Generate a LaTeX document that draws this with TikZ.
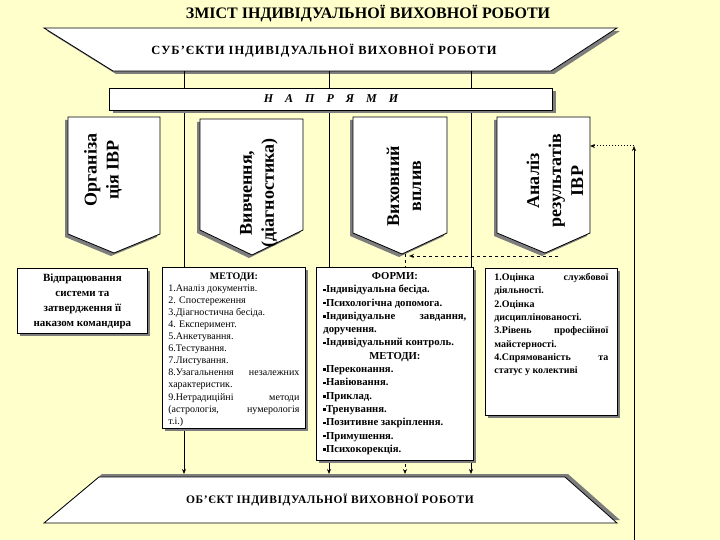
\documentclass[tikz,border=0pt]{standalone}
\usepackage{fontspec}
\setmainfont{Liberation Serif}
\usetikzlibrary{arrows.meta,shadows}
\definecolor{bgyellow}{RGB}{255,255,204}
\definecolor{shgray}{RGB}{125,125,125}
\hyphenpenalty=10000
\exhyphenpenalty=10000
\tolerance=10000
\newcommand{\bul}{\rule[1.6pt]{2.6pt}{2.6pt}}

\begin{document}
\begin{tikzpicture}[x=1pt,y=-1pt,>={Stealth[length=5pt,width=4pt]},
  drop se/.style={drop shadow={shadow xshift=3pt,shadow yshift=-3pt,fill=shgray,opacity=1}},
  drop sw/.style={drop shadow={shadow xshift=-3pt,shadow yshift=-3pt,fill=shgray,opacity=1}},
  drop ne/.style={drop shadow={shadow xshift=3pt,shadow yshift=3pt,fill=shgray,opacity=1}},
  box/.style={draw,fill=white,line width=.8pt,inner xsep=0pt,inner ysep=5pt,drop se},
  plate/.style={draw,fill=white,line width=.8pt,drop sw},
  vtext/.style={rotate=90,align=center,font=\bfseries\fontsize{18}{22}\selectfont},
  link/.style={line width=1pt}]

\fill[bgyellow] (0,0) rectangle (720,540);
\useasboundingbox (0,0) rectangle (720,540);

% columns of the links
\def\ca{184}
\def\cb{329}
\def\cc{471}

\node (title) at (368,14) {\bfseries\fontsize{16}{18}\selectfont ЗМІСТ ІНДИВІДУАЛЬНОЇ ВИХОВНОЇ РОБОТИ};

%Subjects
\filldraw[fill=white,line width=.8pt,drop se] (44,28) -- (617,28) -- (551,71) -- (113,71) -- cycle;
\node (subj) at (324,51) {\bfseries\fontsize{12.5}{14}\selectfont\addfontfeature{LetterSpace=8}СУБ’ЄКТИ ІНДИВІДУАЛЬНОЇ ВИХОВНОЇ РОБОТИ};

\coordinate (s1) at (\ca,71);
\coordinate (s2) at (\cb,71);
\coordinate (s3) at (\cc,71);
\coordinate (o1) at (\ca,474);
\coordinate (o2) at (\cb,474);
\coordinate (o3) at (\cc,474);
\coordinate (o4) at (405,474);

\draw[link,->] (s1) -- (o1);
\draw[link,->] (s2) -- (o2);
\draw[link,->] (s3) -- (o3);

\node[box,minimum width=443pt,minimum height=22pt,font=\bfseries\itshape\fontsize{12}{14}\selectfont] (napr) at (331,99) {Н\quad А\quad П\quad Р\quad Я\quad М\quad И};

%Directions
\filldraw[plate] (68,117) -- (160,117) -- (160,234) -- (114,253) -- (68,234) -- cycle;
\filldraw[plate] (200,119) -- (303,119) -- (303,230) -- (252,255) -- (200,230) -- cycle;
\filldraw[plate] (353,117) -- (447,117) -- (447,233) -- (402,254) -- (353,233) -- cycle;
\filldraw[plate] (497,117) -- (590,117) -- (590,233) -- (545,253) -- (497,233) -- cycle;

\node[vtext] (org) at (103,170) {Організа\\ція ІВР};
\node[vtext] (viv) at (259,193) {Вивчення,\\(діагностика)};
\node[vtext] (vyh) at (404,186) {Виховний\\вплив};
\node[vtext] (anal) at (555,181) {Аналіз\\результатів\\ІВР};

%Feedback
\coordinate (vt) at (405,254);
\coordinate (an0) at (558,256);
\coordinate (d1) at (409,256);
\draw[link,dashed,->] (an0) -- (d1);
\draw[link,dashed,->] (vt) -- (o4);

\coordinate (r0) at (634,540);
\coordinate (r1) at (634,146);
\coordinate (ae) at (590,146);
\draw[->] (r0) -- (r1);
\draw[link,dotted,->] (r1) -- (ae);

%Boxes
\node[box,anchor=north west,minimum width=130pt,minimum height=64pt,align=center,font=\bfseries\fontsize{11}{15}\selectfont] (prog) at (17,268) {Відпрацювання\\системи та\\затвердження її\\наказом командира};

\node[box,anchor=north west,minimum width=143pt,font=\fontsize{10}{12.1}\selectfont] (met) at (162,267) {\parbox[c][151pt][t]{131pt}{%
{\centering\bfseries МЕТОДИ:\par}
1.Аналіз документів.\par
2. Спостереження\par
3.Діагностична бесіда.\par
4. Експеримент.\par
5.Анкетування.\par
6.Тестування.\par
7.Листування.\par
8.Узагальнення незалежних характеристик.\par
9.Нетрадиційні методи (астрологія, нумерологія т.і.)}};

\node[box,anchor=north west,minimum width=157pt,font=\bfseries\fontsize{10.7}{13.3}\selectfont] (form) at (316,267) {\parbox[c][183pt][t]{143pt}{%
{\centering ФОРМИ:\par}
\bul Індивідуальна бесіда.\par
\bul Психологічна допомога.\par
\bul Індивідуальне завдання, доручення.\par
\bul Індивідуальний контроль.\par
{\centering МЕТОДИ:\par}
\bul Переконання.\par
\bul Навіювання.\par
\bul Приклад.\par
\bul Тренування.\par
\bul Позитивне закріплення.\par
\bul Примушення.\par
\bul Психокорекція.}};

\node[box,anchor=north west,minimum width=132pt,font=\bfseries\fontsize{10}{13.3}\selectfont] (res) at (485,268) {\parbox[c][137pt][t]{114pt}{%
1.Оцінка службової діяльності.\par
2.Оцінка дисциплінованості.\par
3.Рівень професійної майстерності.\par
4.Спрямованість та статус у колективі}};

%Object
\filldraw[fill=white,line width=.8pt,drop ne] (99,477) -- (565,477) -- (617,523) -- (44,523) -- cycle;
\node (obj) at (330,500) {\bfseries\fontsize{11.5}{13}\selectfont\addfontfeature{LetterSpace=5}ОБ’ЄКТ ІНДИВІДУАЛЬНОЇ ВИХОВНОЇ РОБОТИ};

\end{tikzpicture}
\end{document}
